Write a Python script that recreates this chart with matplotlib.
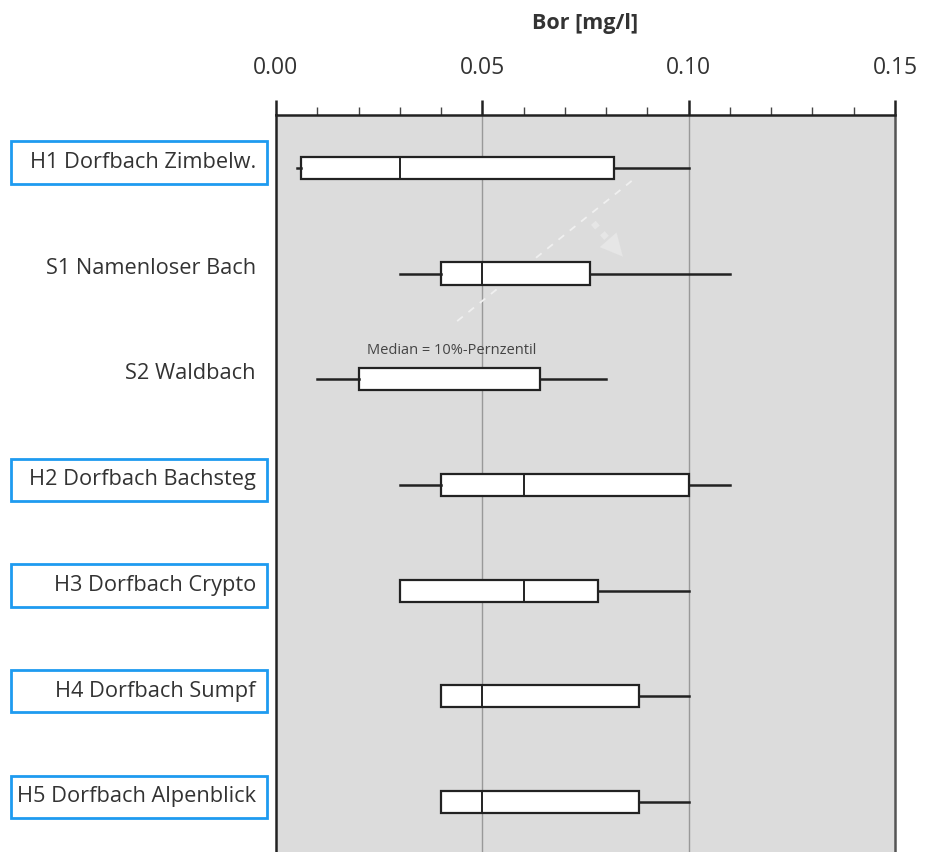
import matplotlib
matplotlib.use("Agg")
import matplotlib.pyplot as plt
import matplotlib.transforms as mtransforms
from matplotlib.patches import Rectangle

# ---------------- data ----------------
stations = ["H1 Dorfbach Zimbelw.", "S1 Namenloser Bach", "S2 Waldbach",
            "H2 Dorfbach Bachsteg", "H3 Dorfbach Crypto", "H4 Dorfbach Sumpf",
            "H5 Dorfbach Alpenblick"]
framed = [True, False, False, True, True, True, True]
whisker_low = [0.005, 0.030, 0.010, 0.030, 0.030, 0.040, 0.040]
q1 = [0.006, 0.040, 0.020, 0.040, 0.030, 0.040, 0.040]
median = [0.030, 0.050, 0.020, 0.060, 0.060, 0.050, 0.050]
q3 = [0.082, 0.076, 0.064, 0.100, 0.078, 0.088, 0.088]
whisker_high = [0.100, 0.110, 0.080, 0.110, 0.100, 0.100, 0.100]
xticks = [0.00, 0.05, 0.10, 0.15]
xticklabels = ["0.00", "0.05", "0.10", "0.15"]
minor_ticks = [0.01, 0.02, 0.03, 0.04, 0.06, 0.07, 0.08, 0.09, 0.11, 0.12, 0.13, 0.14]
title = "Bor [mg/l]"
note_text = "Median = 10%-Pernzentil"
note_station = 2
note_x = 0.0425
# faint dashed guide and arrow (data coords: x value, station index)
guide_line = [(0.0439, 1.45), (0.0871, 0.095)]
guide_arrow = [(0.0769, 0.52), (0.0845, 0.86)]

FONT = "Open Sans"
TXT = "#333333"

W, H = 928, 852
fig = plt.figure(figsize=(W / 100, H / 100), dpi=100)
fig.patch.set_facecolor("white")

ax_left, ax_right, ax_top = 276, 895, 115
step = 105.7
ax_bottom = ax_top + step * len(stations)
ax = fig.add_axes([ax_left / W, (H - ax_bottom) / H,
                   (ax_right - ax_left) / W, (ax_bottom - ax_top) / H])
ax.set_facecolor("#dcdcdc")

stats = []
for i, name in enumerate(stations):
    stats.append(dict(label=name, whislo=whisker_low[i], q1=q1[i], med=median[i],
                      q3=q3[i], whishi=whisker_high[i], fliers=[]))
positions = list(range(len(stations)))
ax.bxp(stats, positions=positions, vert=False, widths=0.21, patch_artist=True,
       showcaps=False, showfliers=False,
       boxprops=dict(facecolor="white", edgecolor="#222222", linewidth=1.6),
       whiskerprops=dict(color="#222222", linewidth=1.8),
       medianprops=dict(color="#222222", linewidth=1.4), zorder=3)

ax.set_xlim(0, 0.15)
ax.set_ylim(len(stations) - 0.5, -0.5)

for v in [0.05, 0.10]:
    ax.axvline(v, color="#999999", linewidth=1.0, zorder=1)

ax.xaxis.tick_top()
ax.set_xticks(xticks)
ax.set_xticklabels(xticklabels, fontsize=16.5, color=TXT, family=FONT)
ax.set_xticks(minor_ticks, minor=True)
ax.tick_params(axis="x", which="major", length=11, width=1.8, color="#222222",
               pad=14.5, top=True, bottom=False)
ax.tick_params(axis="x", which="minor", length=6, width=1.0, color="#444444",
               top=True, bottom=False)
ax.set_yticks([])

for s in ["top", "left"]:
    ax.spines[s].set_linewidth(1.8)
    ax.spines[s].set_color("#222222")
ax.spines["right"].set_linewidth(1.8)
ax.spines["right"].set_color("#555555")
ax.spines["bottom"].set_visible(False)

fig.text(ax_left / W + (ax_right - ax_left) / W / 2, 1 - 23 / H, title,
         ha="center", va="center", fontsize=15.5, fontweight="bold",
         color=TXT, family=FONT)

# station labels
blend = mtransforms.blended_transform_factory(fig.transFigure, ax.transData)
off = -0.05
for i, name in enumerate(stations):
    ax.text(256 / W, i + off, name, transform=blend, ha="right", va="center",
            fontsize=15.7, color=TXT, family=FONT, clip_on=False)
    if framed[i]:
        rect = Rectangle((11 / W, i + off - 0.2), 256 / W, 0.40, transform=blend,
                         facecolor="white", edgecolor="#1e9bf0", linewidth=2.0,
                         clip_on=False)
        ax.add_artist(rect)
        rect.set_zorder(0.5)

# annotation
ax.text(note_x, note_station - 0.27, note_text, ha="center", va="center",
        fontsize=10.5, color="#444444", family=FONT, zorder=4)

(x0, y0), (x1, y1) = guide_line
ax.plot([x0, x1], [y0, y1], color="#f0f0f0", linewidth=1.3,
        linestyle=(0, (4, 4)), zorder=2)
(ax0, ay0), (ax1, ay1) = guide_arrow
fx = ax0 + (ax1 - ax0) * 0.55
fy = ay0 + (ay1 - ay0) * 0.55
ax.plot([ax0, fx], [ay0, fy], color="#e6e6e6", linewidth=4.5,
        linestyle=(0, (1, 1.2)), zorder=2)
ax.annotate("", xy=(ax1, ay1), xytext=(fx, fy),
            arrowprops=dict(arrowstyle="-|>,head_length=1.6,head_width=0.8",
                            color="#e6e6e6", linewidth=0.1),
            zorder=2)

fig.savefig("out.png", dpi=100, facecolor="white")
